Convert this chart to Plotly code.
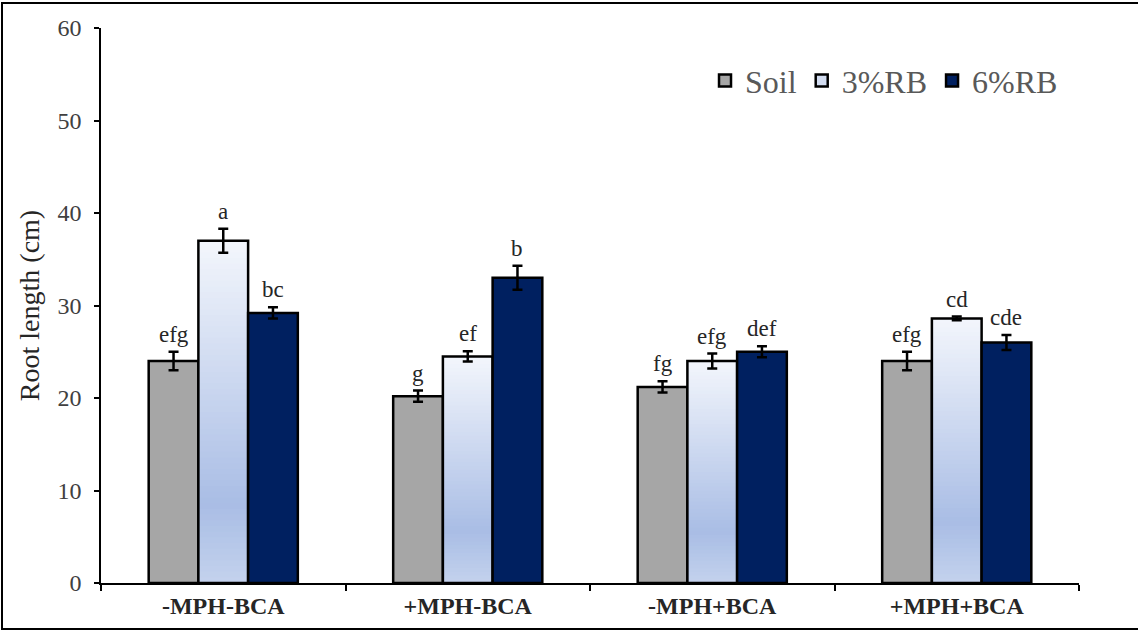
import plotly.graph_objects as go

# Treatments and measured root lengths (cm)
treatments = ["-MPH-BCA", "+MPH-BCA", "-MPH+BCA", "+MPH+BCA"]
series_names = ["Soil", "3%RB", "6%RB"]

soil = [24.0, 20.2, 21.2, 24.0]
rb3 = [37.0, 24.5, 24.0, 28.6]
rb6 = [29.2, 33.0, 25.0, 26.0]

soil_err = [1.0, 0.6, 0.6, 1.0]
rb3_err = [1.3, 0.55, 0.8, 0.2]
rb6_err = [0.6, 1.3, 0.6, 0.8]

# Significance letters
soil_letters = ["efg", "g", "fg", "efg"]
rb3_letters = ["a", "ef", "efg", "cd"]
rb6_letters = ["bc", "b", "def", "cde"]

y_ticks = [0, 10, 20, 30, 40, 50, 60]

FONT = "'Liberation Serif', 'Times New Roman', Times, serif"
W, H = 1138, 631
ML, MR, MT, MB = 101, 59, 28, 48
PW, PH = W - ML - MR, H - MT - MB

err_style = dict(type="data", color="black", thickness=2.5, width=5, visible=True)


def lerp_hex(c1, c2, t):
    a = [int(c1[i:i + 2], 16) for i in (1, 3, 5)]
    b = [int(c2[i:i + 2], 16) for i in (1, 3, 5)]
    return "#" + "".join(f"{round(a[k] + (b[k] - a[k]) * t):02x}" for k in range(3))


# vertical gradient for the 3%RB fill: (fraction from bottom, colour)
grad_stops = [(0.0, "#c4d2ed"), (0.23, "#a9bde5"), (1.0, "#f3f6fc")]


def grad_color(f):
    for (f0, c0), (f1, c1) in zip(grad_stops[:-1], grad_stops[1:]):
        if f0 <= f <= f1:
            return lerp_hex(c0, c1, (f - f0) / (f1 - f0))
    return grad_stops[-1][1]


fig = go.Figure()

fig.add_trace(go.Bar(
    name=series_names[0], x=treatments, y=soil, offsetgroup="soil",
    marker=dict(color="#a6a6a6", line=dict(color="black", width=2.5)),
    error_y=dict(array=soil_err, **err_style),
))

# legend entry for the gradient series
fig.add_trace(go.Bar(
    name=series_names[1], x=treatments, y=[None] * 4, offsetgroup="rb3",
    marker=dict(color="#d3ddf1", line=dict(color="black", width=2.5)),
))

# gradient fill: layers from a rising base up to the bar top, each painted over the last
N = 60
for k in range(N):
    frac = (k + 0.5) / N
    fig.add_trace(go.Bar(
        x=treatments, y=[v * (1 - k / N) for v in rb3], base=[v * k / N for v in rb3],
        offsetgroup="rb3", showlegend=False, hoverinfo="skip",
        marker=dict(color=grad_color(frac), line=dict(width=0)),
    ))

# outline and error bars of the 3%RB bars
fig.add_trace(go.Bar(
    x=treatments, y=rb3, offsetgroup="rb3", showlegend=False,
    marker=dict(color="rgba(0,0,0,0)", line=dict(color="black", width=2.5)),
    error_y=dict(array=rb3_err, **err_style),
))

fig.add_trace(go.Bar(
    name=series_names[2], x=treatments, y=rb6, offsetgroup="rb6",
    marker=dict(color="#002060", line=dict(color="black", width=2.5)),
    error_y=dict(array=rb6_err, **err_style),
))

# letters above the error bars
bar_px = PW / 4 * (1 - 0.39) / 3
for shift, vals, errs, letters in [
    (-bar_px, soil, soil_err, soil_letters),
    (0, rb3, rb3_err, rb3_letters),
    (bar_px, rb6, rb6_err, rb6_letters),
]:
    for t, v, e, lab in zip(treatments, vals, errs, letters):
        fig.add_annotation(
            x=t, y=v + e, text=lab, showarrow=False, xshift=shift, yshift=3,
            yanchor="bottom", font=dict(family=FONT, size=23, color="#262626"),
        )

# outer frame around the whole figure
fig.add_shape(
    type="rect", xref="paper", yref="paper",
    x0=(2 - ML) / PW, x1=(W + 5 - ML) / PW,
    y0=-(629 - (H - MB)) / PH, y1=(H - MB - 3) / PH,
    line=dict(color="black", width=2), layer="above",
)

fig.update_layout(
    width=W, height=H,
    margin=dict(l=ML, r=MR, t=MT, b=MB),
    paper_bgcolor="white", plot_bgcolor="white",
    barmode="group", bargap=0.39, bargroupgap=0,
    showlegend=True,
    legend=dict(
        orientation="h", x=0.6176, y=0.905, xanchor="left", yanchor="middle",
        font=dict(family=FONT, size=32, color="#595959"),
        bgcolor="rgba(0,0,0,0)", itemwidth=30, traceorder="normal",
    ),
    xaxis=dict(
        showline=True, linecolor="black", linewidth=1.5,
        ticks="outside", tickson="boundaries", ticklen=6, tickwidth=1.5, tickcolor="black",
        tickfont=dict(family=FONT, size=24, color="#262626", weight="bold"),
        showgrid=False,
    ),
    yaxis=dict(
        range=[0, 60], tickvals=y_ticks,
        showline=True, linecolor="black", linewidth=1.5,
        ticks="outside", ticklen=5, tickwidth=1.5, tickcolor="black",
        tickfont=dict(family=FONT, size=24, color="#404040"),
        ticklabelstandoff=8,
        showgrid=False, zeroline=False,
        title=dict(text="Root length (cm)", font=dict(family=FONT, size=28, color="#262626"), standoff=10),
    ),
)

fig.write_html("out.html")
